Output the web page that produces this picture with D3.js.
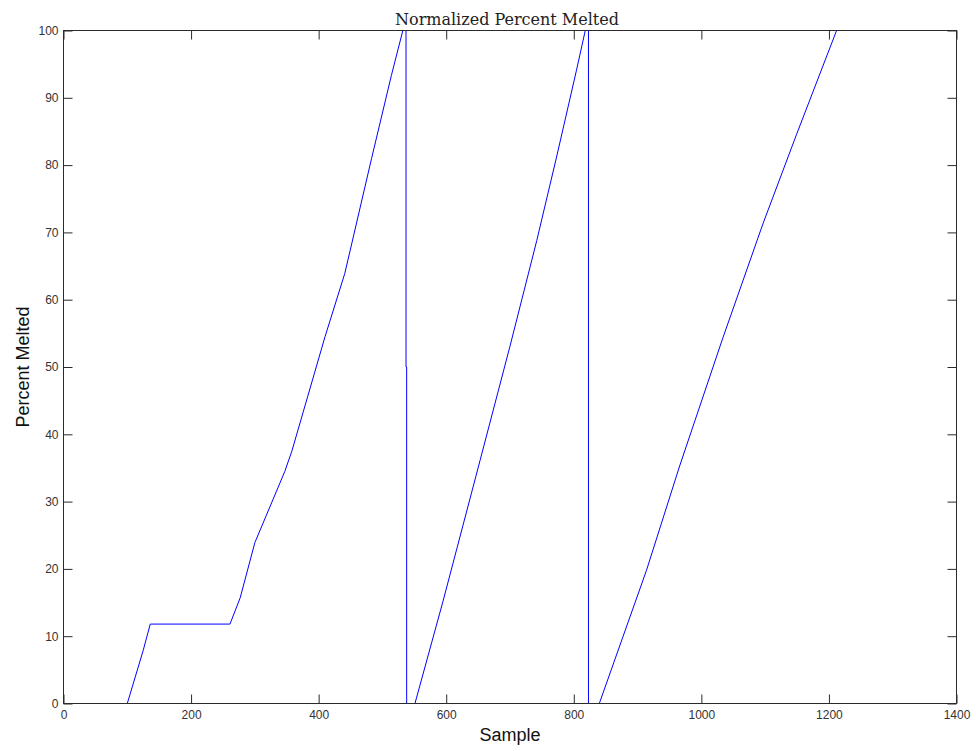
<!DOCTYPE html>
<html>
<head>
<meta charset="utf-8">
<script src="https://cdn.jsdelivr.net/npm/d3@7"></script>
<style>
  html, body { margin: 0; padding: 0; background: #fff; }
  svg { display: block; }
</style>
</head>
<body>
<svg id="chart" width="976" height="751"></svg>
<script>
// ---- Data ----
const sample = [0, 100, 125, 136, 261, 277, 300, 347, 358, 410, 441, 483, 514, 532, 537, 537, 538, 538,
                551, 595, 653, 700, 742, 773, 804, 818, 823, 823,
                840, 914, 966, 1034, 1097, 1149, 1212];
const percent = [0, 0, 7.9, 11.8, 11.8, 15.7, 23.9, 34.5, 37.5, 54.5, 63.9, 81, 93.3, 100, 100, 50, 50, 0,
                 0, 15.2, 36.1, 53.1, 68.8, 81.2, 94.0, 100, 100, 0,
                 0, 19.8, 35.3, 54.4, 71.4, 84.5, 100];
const xTicks = [0, 200, 400, 600, 800, 1000, 1200, 1400];
const yTicks = [0, 10, 20, 30, 40, 50, 60, 70, 80, 90, 100];
const titleText = "Normalized Percent Melted";
const xLabel = "Sample";
const yLabel = "Percent Melted";

// ---- Layout ----
const W = 976, H = 751;
const m = { left: 63.5, right: 956.5, top: 30.5, bottom: 703.5 };

const x = d3.scaleLinear().domain([0, 1400]).range([m.left, m.right]);
const y = d3.scaleLinear().domain([0, 100]).range([m.bottom, m.top]);

const svg = d3.select("#chart");
svg.append("rect").attr("width", W).attr("height", H).attr("fill", "#fff");

svg.append("defs").append("clipPath").attr("id", "plotclip")
  .append("rect").attr("x", m.left).attr("y", m.top)
  .attr("width", m.right - m.left).attr("height", m.bottom - m.top);

const data = sample.map((s, i) => ({ s, v: percent[i] }));
const line = d3.line().x(d => x(d.s)).y(d => y(d.v));

svg.append("path")
  .datum(data)
  .attr("clip-path", "url(#plotclip)")
  .attr("fill", "none")
  .attr("stroke", "#0000ff")
  .attr("stroke-width", 1)
  .attr("d", line);

const axisColor = "#2b2b2b";
const tickLen = 9;
const fontSans = "Arial, 'Liberation Sans', Helvetica, sans-serif";

// Bottom axis (ticks inward)
const gx = svg.append("g").attr("transform", `translate(0,${m.bottom})`)
  .call(d3.axisBottom(x).tickValues(xTicks).tickFormat(d3.format("d")).tickSizeInner(-tickLen).tickSizeOuter(0).tickPadding(5));
// Top axis (ticks only)
const gxt = svg.append("g").attr("transform", `translate(0,${m.top})`)
  .call(d3.axisTop(x).tickValues(xTicks).tickFormat("").tickSizeInner(-tickLen).tickSizeOuter(0));
// Left axis
const gy = svg.append("g").attr("transform", `translate(${m.left},0)`)
  .call(d3.axisLeft(y).tickValues(yTicks).tickFormat(d3.format("d")).tickSizeInner(-tickLen).tickSizeOuter(0).tickPadding(5));
// Right axis (ticks only)
const gyr = svg.append("g").attr("transform", `translate(${m.right},0)`)
  .call(d3.axisRight(y).tickValues(yTicks).tickFormat("").tickSizeInner(-tickLen).tickSizeOuter(0));

[gx, gxt, gy, gyr].forEach(g => {
  g.select(".domain").remove();
  g.selectAll(".tick line").attr("stroke", axisColor);
  g.selectAll(".tick text").attr("fill", "#333").style("font-family", fontSans).style("font-size", "12px");
});
gx.selectAll(".tick text").attr("dy", "0.9em");

// Box (drawn over the data, like MATLAB axes)
svg.append("rect")
  .attr("x", m.left).attr("y", m.top)
  .attr("width", m.right - m.left).attr("height", m.bottom - m.top)
  .attr("fill", "none").attr("stroke", axisColor).attr("stroke-width", 1);

// Title
svg.append("text")
  .attr("x", 507).attr("y", 25)
  .attr("text-anchor", "middle")
  .style("font-family", "'DejaVu Serif', 'Liberation Serif', serif")
  .style("font-size", "16px")
  .attr("fill", "#222")
  .text(titleText);

// Axis labels
svg.append("text")
  .attr("x", (m.left + m.right) / 2).attr("y", 741)
  .attr("text-anchor", "middle")
  .style("font-family", fontSans).style("font-size", "18px")
  .attr("fill", "#111")
  .text(xLabel);

svg.append("text")
  .attr("transform", `translate(29,${(m.top + m.bottom) / 2}) rotate(-90)`)
  .attr("text-anchor", "middle")
  .style("font-family", fontSans).style("font-size", "18px")
  .attr("fill", "#111")
  .text(yLabel);
</script>
</body>
</html>
